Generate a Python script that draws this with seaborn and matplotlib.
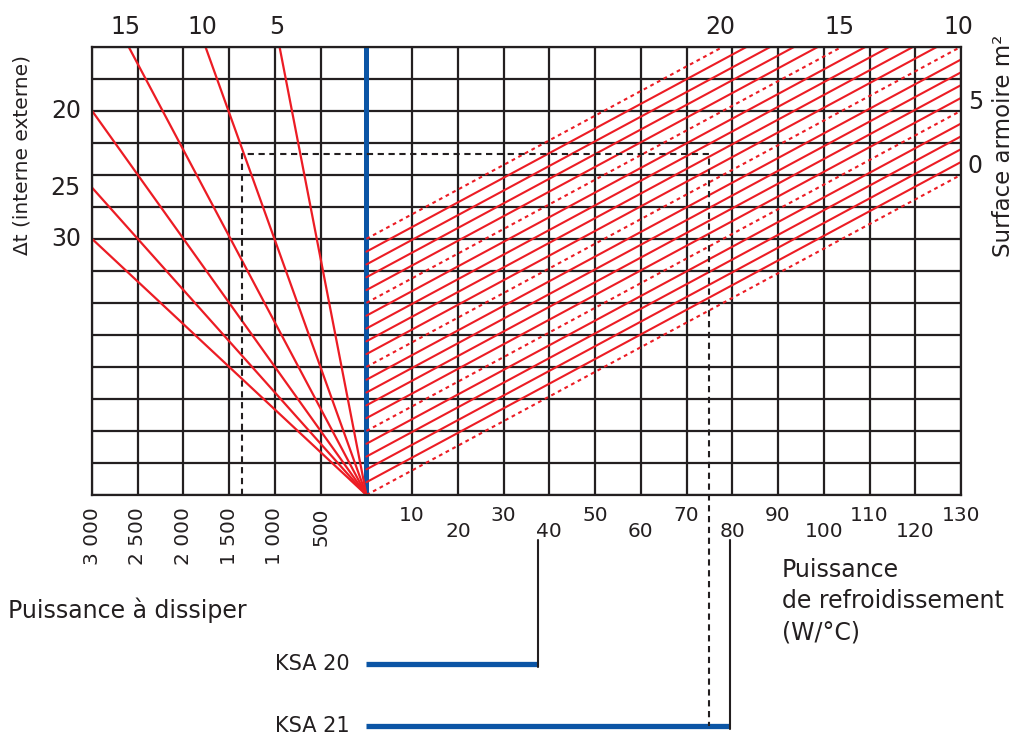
import numpy as np
import pandas as pd
import matplotlib
matplotlib.use('Agg')
import matplotlib.pyplot as plt
import seaborn as sns

# left scale: power to dissipate (W); right scale: cooling power (W/°C)
power_ticks = [3000, 2500, 2000, 1500, 1000, 500]
power_labels = ["3 000", "2 500", "2 000", "1 500", "1 000", "500"]
cooling_ticks = [10, 20, 30, 40, 50, 60, 70, 80, 90, 100, 110, 120, 130]

# delta-t fan: end point of each red line (power in W, level in W/°C)
fan_dt = [5, 10, 15, 20, 25, 30]
fan_end_power = [950, 1760, 2600, 3000, 3000, 3000]
fan_end_level = [175, 175, 175, 150, 120, 100]

# cabinet surface lines (m2), dotted every 5 m2
surfaces = [0, 1, 2, 3, 4, 5, 6, 7, 8, 9, 10, 11, 12, 13, 14, 15, 16, 17, 18, 19, 20]
surface_labels = [20, 15, 10, 5, 0]
surface_step = 5.0            # W/°C per m2 on the level axis
zero_line_end = (130, 125)    # where the 0 m2 line meets the right border

# worked example (dashed)
example_power = 1360
example_level = 133
example_cooling = 75

ksa_models = ["KSA 20", "KSA 21"]
ksa_cooling = [37.5, 79.5]

RED = '#ec1c24'
BLUE = '#0b55a5'
INK = '#231f20'
X_MIN, X_MAX, LEVEL_MAX = -60, 130, 175


def power_x(p):
    return -p / 50.0


sns.set_style("white")
plt.rcParams['font.family'] = ['DejaVu Sans']
plt.rcParams['text.color'] = INK

fig = plt.figure(figsize=(10.14, 7.36), dpi=100)
ax = fig.add_axes([92 / 1014, 1 - 495 / 736, 869 / 1014, 448.3 / 736])
ax.set_xlim(X_MIN, X_MAX)
ax.set_ylim(0, LEVEL_MAX)
ax.set_xticks(np.arange(X_MIN, X_MAX + 1, 10))
ax.set_yticks(np.arange(0, LEVEL_MAX + 0.1, 12.5))
ax.grid(True, color=INK, lw=1.6)
ax.set_axisbelow(True)
ax.tick_params(length=0, labelbottom=False, labelleft=False)
for sp in ax.spines.values():
    sp.set_color(INK)
    sp.set_linewidth(1.6)

# blue zero line
ax.axvline(0, color=BLUE, lw=3.6, zorder=1.5)

# fan of delta-t lines
fan_rows = []
for dt, p, lv in zip(fan_dt, fan_end_power, fan_end_level):
    fan_rows.append({'dt': dt, 'x': 0.0, 'y': 0.0})
    fan_rows.append({'dt': dt, 'x': power_x(p), 'y': lv})
fan_df = pd.DataFrame(fan_rows)
sns.lineplot(data=fan_df, x='x', y='y', units='dt', estimator=None, sort=False,
             color=RED, lw=1.6, legend=False, ax=ax)

# surface lines
slope = zero_line_end[1] / zero_line_end[0]
surf_rows = []
surf_ends = {}
for s in surfaces:
    y0 = surface_step * s
    x_end = min(X_MAX, (LEVEL_MAX - y0) / slope)
    y_end = y0 + slope * x_end
    kind = 'dotted' if s % 5 == 0 else 'solid'
    surf_rows.append({'s': s, 'x': 0.0, 'y': y0, 'kind': kind})
    surf_rows.append({'s': s, 'x': x_end, 'y': y_end, 'kind': kind})
    surf_ends[s] = (x_end, y_end)
surf_df = pd.DataFrame(surf_rows)
sns.lineplot(data=surf_df, x='x', y='y', units='s', estimator=None, sort=False,
             style='kind', dashes={'solid': '', 'dotted': (1.8, 1.8)},
             color=RED, lw=1.5, legend=False, ax=ax)
ax.set_xlabel('')
ax.set_ylabel('')

# KSA models below the chart
ksa_y = [-66, -90]
for name, c, y in zip(ksa_models, ksa_cooling, ksa_y):
    ax.plot([0, c], [y, y], color=BLUE, lw=3.8, solid_capstyle='butt', clip_on=False)
    ax.plot([c, c], [y - 1.2, -17.6], color=INK, lw=1.5, clip_on=False)
    ax.annotate(name, xy=(0, y), xytext=(-12, 0), textcoords='offset points',
                ha='right', va='center', fontsize=15, annotation_clip=False)

# worked example
ex_x = power_x(example_power)
ax.plot([ex_x, ex_x, example_cooling, example_cooling],
        [0, example_level, example_level, ksa_y[1]],
        color=INK, lw=1.5, ls=(0, (3, 2.2)), clip_on=False, zorder=5)

# tick labels: power (rotated) and cooling (staggered)
for p, lab in zip(power_ticks, power_labels):
    ax.annotate(lab, xy=(power_x(p), 0), xytext=(0, -9), textcoords='offset points',
                rotation=90, ha='center', va='top', fontsize=14.5, annotation_clip=False)
for i, c in enumerate(cooling_ticks):
    off = -14.5 if i % 2 == 0 else -26
    ax.annotate(str(c), xy=(c, 0), xytext=(0, off), textcoords='offset points',
                ha='center', va='center', fontsize=14.5, annotation_clip=False)

# delta-t labels
for dt, p, lv in zip(fan_dt, fan_end_power, fan_end_level):
    if lv >= LEVEL_MAX:
        ax.annotate(str(dt), xy=(power_x(p), LEVEL_MAX), xytext=(-2, 14),
                    textcoords='offset points', ha='center', va='center',
                    fontsize=17, annotation_clip=False)
    else:
        ax.annotate(str(dt), xy=(X_MIN, lv), xytext=(-8, 0),
                    textcoords='offset points', ha='right', va='center',
                    fontsize=17, annotation_clip=False)

# surface labels
for s in surface_labels:
    xe, ye = surf_ends[s]
    if ye >= LEVEL_MAX - 0.01:
        ax.annotate(str(s), xy=(xe, LEVEL_MAX), xytext=(-2, 14),
                    textcoords='offset points', ha='center', va='center',
                    fontsize=17, annotation_clip=False)
    else:
        ax.annotate(str(s), xy=(xe, ye), xytext=(5, 6.5),
                    textcoords='offset points', ha='left', va='center',
                    fontsize=17, annotation_clip=False)

# axis titles
fig.text(22 / 1014, 1 - 155 / 736, "Δt (interne externe)", rotation=90,
         ha='center', va='center', fontsize=14.5)
fig.text(1004 / 1014, 1 - 146 / 736, "Surface armoire m²", rotation=90,
         ha='center', va='center', fontsize=16.5)
fig.text(8 / 1014, 1 - 610 / 736, "Puissance à dissiper",
         ha='left', va='center', fontsize=17)
fig.text(782 / 1014, 1 - 558 / 736, "Puissance\nde refroidissement\n(W/°C)",
         ha='left', va='top', fontsize=17, linespacing=1.38)

fig.savefig("out.png", dpi=100, facecolor='white')
